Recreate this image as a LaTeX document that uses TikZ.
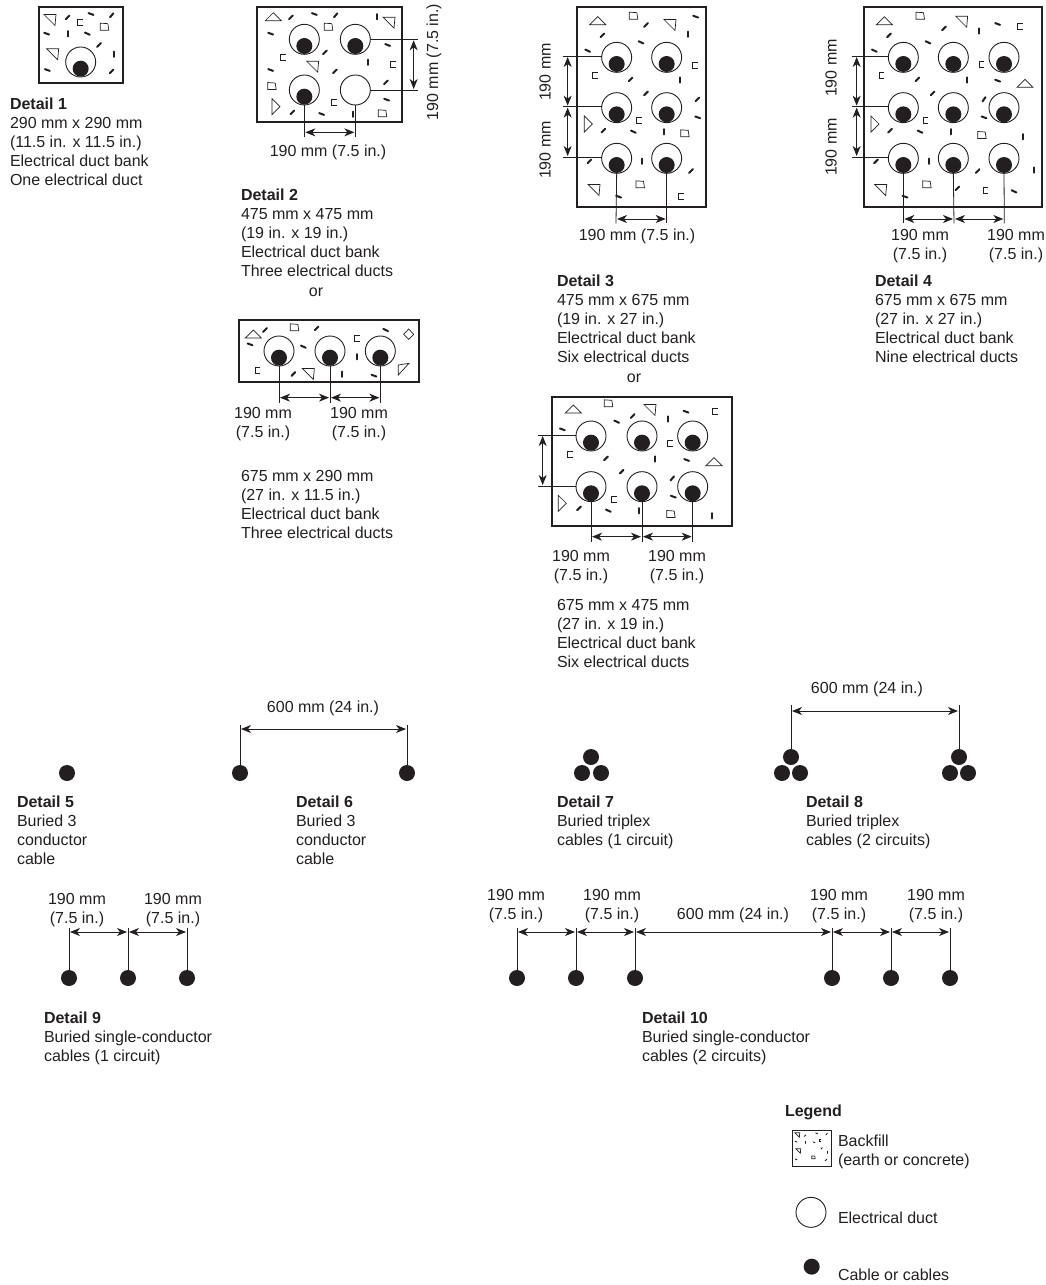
\documentclass[tikz,border=0pt]{standalone}
\usepackage{fontspec}
\setmainfont{Liberation Sans}
\usetikzlibrary{arrows.meta}
\definecolor{ink}{HTML}{231F20}
\def\mks{1}\def\dw{2pt}
\tikzset{
  x=1pt,y=-1pt,
  every node/.style={text=ink,font=\fontsize{16}{19}\selectfont,inner sep=0pt,outer sep=0pt},
  zoomed/.style={x=.33333pt,y=-.33333pt},
  bankbox/.style={draw=ink,line width=2pt},
  duct/.style={circle,draw=ink,line width=.9pt,minimum size=30pt,fill=white},
  cable/.style={circle,fill=ink,minimum size=16pt},
  leader/.style={draw=ink,line width=.8pt},
  dimarrow/.style={draw=ink,line width=.8pt,{Stealth[length=10pt,width=8pt,inset=3pt]}-{Stealth[length=10pt,width=8pt,inset=3pt]},shorten <=1pt,shorten >=1pt},
  textblock/.style={anchor=north west,align=left,yshift=-1pt},
  lab/.style={anchor=center,align=center,yshift=-1pt},
  mk/.style={draw=ink,line width=.7pt}
}
% marks, in the current coordinates
\newcommand\dsh[3]{\begin{scope}[shift={(#1,#2)},rotate=#3,scale=\mks]\draw[draw=ink,line width=\dw,line cap=round] (-2.6pt,0pt)--(2.6pt,0pt);\end{scope}}
\newcommand\tria[3]{\begin{scope}[shift={(#1,#2)},rotate=#3,scale=\mks]\draw[mk] (-8pt,-4pt)--(8pt,-4pt)--(0pt,4pt)--cycle;\end{scope}}
\newcommand\trib[2]{\begin{scope}[shift={(#1,#2)},scale=\mks]\draw[mk] (-6pt,5.5pt)--(6pt,5.5pt)--(5pt,-5.5pt)--cycle;\end{scope}}
\newcommand\trap[2]{\begin{scope}[shift={(#1,#2)},scale=\mks]\draw[mk] (-4pt,3.5pt)--(3.5pt,3pt)--(4.5pt,-3.5pt)--(-4pt,-3.5pt)--cycle;\end{scope}}
\newcommand\brk[2]{\begin{scope}[shift={(#1,#2)},scale=\mks]\draw[mk,line width=.9pt] (2.7pt,3pt)--(-2.5pt,3pt)--(-2.5pt,-3pt)--(2.7pt,-3pt);\end{scope}}
\newcommand\dc[3]{\node[duct] (d#1) at (#2,#3) {};\node[cable] (c#1) at (#2,#3+20) {};}
\newcommand\hdim[3]{\draw[dimarrow] (#1 |- 0,#3) -- (#2 |- 0,#3);}
\newcommand\vdim[3]{\draw[dimarrow] (#1 -| #3,0) -- (#2 -| #3,0);}
\newcommand\lft[2]{\draw[leader] (#2 -| #1.west) -- (#2);}
\begin{document}
\begin{tikzpicture}
\useasboundingbox (0,0) rectangle (1045,1285);

% ---------- Detail 1
\begin{scope}[zoomed]
\draw[bankbox] (116,22) rectangle (368,248);
\trib{150}{60}\trib{158}{163}\brk{240}{66}\trap{313}{80}
\dsh{203}{52}{45}\dsh{273}{42}{-20}\dsh{335}{46}{50}\dsh{140}{101}{-20}\dsh{205}{101}{90}\dsh{262}{101}{-25}\dsh{297}{135}{45}\dsh{343}{163}{90}\dsh{142}{210}{-20}\dsh{335}{214}{45}
\dc{1a}{242}{186}
\end{scope}
\node[textblock] (t1) at (10,97) {\textbf{Detail 1}\\290 mm x 290 mm\\(11.5 in. x 11.5 in.)\\Electrical duct bank\\One electrical duct};

% ---------- Detail 2
\begin{scope}[zoomed]
\draw[bankbox] (772,22) rectangle (1207,367);
\tria{820}{50}{0}\trib{1167}{68}\trap{985}{80}\brk{850}{173}\trib{938}{200}\brk{1180}{193}\trap{815}{258}\brk{1003}{308}\tria{828}{320}{-90}\trap{1147}{340}
\dsh{873}{52}{45}\dsh{943}{42}{-20}\dsh{1007}{46}{50}\dsh{1130}{50}{90}\dsh{812}{101}{-20}\dsh{1163}{135}{-20}\dsh{975}{157}{45}\dsh{1105}{187}{90}\dsh{812}{210}{-20}\dsh{1005}{214}{45}\dsh{1158}{247}{45}\dsh{1160}{299}{-20}\dsh{877}{337}{45}\dsh{965}{342}{-20}\dsh{1058}{343}{90}
\dc{2a}{913}{118}\dc{2b}{1066}{118}\dc{2c}{913}{270}
\node[duct] (d2d) at (1066,270) {};
\coordinate (e2b) at (1255,118);\coordinate (e2d) at (1255,270);
\coordinate (e2c) at (913,410);\coordinate (e2f) at (1066,410);
\draw[leader] (d2b.east)--(e2b);\draw[leader] (d2d.east)--(e2d);
\draw[leader] (c2c.south)--(e2c);\draw[leader] (d2d.south)--(e2f);
\hdim{e2c}{e2f}{397}
\vdim{e2b}{e2d}{1241}
\end{scope}
\node[lab] (l2a) at (328,151) {190 mm (7.5 in.)};
\node[lab,rotate=90] (l2b) at (434,61) {190 mm (7.5 in.)};
\node[textblock] (t2) at (241,188) {\textbf{Detail 2}\\475 mm x 475 mm\\(19 in. x 19 in.)\\Electrical duct bank\\Three electrical ducts};
\node[lab] (o2) at (316,291) {or};

% ---------- Detail 2 alternative
\begin{scope}[shift={(220,310)},zoomed]
\draw[bankbox] (58,30) rectangle (598,215);
\tria{100}{72}{0}\trap{223}{52}\brk{412}{85}\brk{113}{180}\trib{265}{192}
\draw[mk] (566,57)--(581,73)--(566,88)--(551,73)--cycle;
\draw[mk] (535,195)--(567,160)--(535,165)--cycle;
\dsh{135}{60}{45}\dsh{290}{55}{45}\dsh{90}{103}{-20}\dsh{250}{110}{-25}\dsh{497}{60}{-25}\dsh{410}{140}{90}\dsh{220}{192}{45}\dsh{367}{193}{90}\dsh{462}{197}{-20}
\dc{5a}{177}{123}\dc{5b}{330}{123}\dc{5c}{481}{123}
\coordinate (e5a) at (177,278);\coordinate (e5b) at (330,278);\coordinate (e5c) at (481,278);
\draw[leader] (c5a.south)--(e5a);\draw[leader] (c5b.south)--(e5b);\draw[leader] (c5c.south)--(e5c);
\hdim{e5a}{e5b}{263}\hdim{e5b}{e5c}{263}
\end{scope}
\node[lab] (l5a) at (263,423) {190 mm\\(7.5 in.)};
\node[lab] (l5b) at (359,423) {190 mm\\(7.5 in.)};
\node[textblock] (t5) at (241,469) {675 mm x 290 mm\\(27 in. x 11.5 in.)\\Electrical duct bank\\Three electrical ducts};

% ---------- Detail 3
\begin{scope}[shift={(520,0)},zoomed]
\draw[bankbox] (172,22) rectangle (557,622);
\tria{233}{62}{0}\trap{340}{47}\trib{450}{75}\brk{525}{195}\brk{225}{227}\brk{357}{362}\tria{205}{372}{-90}\trap{494}{400}\trap{360}{553}\trib{222}{570}\brk{484}{590}
\dsh{378}{75}{45}\dsh{527}{50}{-20}\dsh{503}{103}{90}\dsh{247}{106}{45}\dsh{363}{127}{-25}\dsh{203}{152}{-25}\dsh{332}{238}{45}\dsh{480}{240}{90}\dsh{378}{280}{45}\dsh{532}{298}{45}\dsh{533}{352}{-20}\dsh{250}{392}{45}\dsh{340}{395}{-25}\dsh{432}{395}{90}\dsh{208}{484}{45}\dsh{367}{484}{90}\dsh{513}{513}{45}\dsh{296}{590}{-20}
\dc{3a}{290}{172}\dc{3b}{440}{172}\dc{3c}{290}{323}\dc{3d}{440}{323}\dc{3e}{290}{475}\dc{3f}{440}{475}
\coordinate (e3a) at (130,168);\coordinate (e3c) at (130,320);\coordinate (e3e) at (130,471);
\lft{d3a}{e3a}\lft{d3c}{e3c}\lft{d3e}{e3e}
\coordinate (e3g) at (288,670);\coordinate (e3h) at (440,670);
\draw[leader] (c3e.south)--(e3g);\draw[leader] (c3f.south)--(e3h);
\vdim{e3a}{e3c}{143}\vdim{e3c}{e3e}{143}
\hdim{e3g}{e3h}{657}
\end{scope}
\node[lab] (l3a) at (637,235) {190 mm (7.5 in.)};
\node[lab,rotate=90] (l3b) at (545,71) {190 mm};
\node[lab,rotate=90] (l3c) at (545,149) {190 mm};
\node[textblock] (t3) at (557,274) {\textbf{Detail 3}\\475 mm x 675 mm\\(19 in. x 27 in.)\\Electrical duct bank\\Six electrical ducts};
\node[lab] (o3) at (634,377) {or};

% ---------- Detail 3 alternative
\begin{scope}[shift={(530,390)},zoomed]
\draw[bankbox] (67,20) rectangle (606,407);
\tria{130}{57}{0}\trap{235}{40}\trib{360}{60}\brk{555}{65}\brk{420}{160}\brk{120}{193}\tria{552}{215}{0}\brk{253}{328}\tria{97}{340}{-90}\trap{422}{372}
\dsh{308}{78}{45}\dsh{415}{87}{90}\dsh{468}{65}{-20}\dsh{97}{118}{-20}\dsh{260}{95}{-25}\dsh{228}{205}{45}\dsh{375}{207}{90}\dsh{470}{210}{-20}\dsh{275}{245}{45}\dsh{427}{265}{50}\dsh{430}{320}{-20}\dsh{147}{355}{45}\dsh{235}{362}{-25}\dsh{328}{362}{90}\dsh{546}{377}{90}
\dc{6a}{183}{138}\dc{6b}{336}{138}\dc{6c}{488}{138}\dc{6d}{183}{290}\dc{6e}{336}{290}\dc{6f}{488}{290}
\coordinate (e6a) at (25,135);\coordinate (e6d) at (25,288);
\lft{d6a}{e6a}\lft{d6d}{e6d}
\vdim{e6a}{e6d}{38}
\coordinate (e6g) at (183,455);\coordinate (e6h) at (336,455);\coordinate (e6i) at (488,455);
\draw[leader] (c6d.south)--(e6g);\draw[leader] (c6e.south)--(e6h);\draw[leader] (c6f.south)--(e6i);
\hdim{e6g}{e6h}{440}\hdim{e6h}{e6i}{440}
\end{scope}
\node[lab] (l6a) at (581,566) {190 mm\\(7.5 in.)};
\node[lab] (l6b) at (677,566) {190 mm\\(7.5 in.)};
\node[textblock] (t6) at (557,598) {675 mm x 475 mm\\(27 in. x 19 in.)\\Electrical duct bank\\Six electrical ducts};

% ---------- Detail 4
\begin{scope}[shift={(520,0)},zoomed]
\draw[bankbox] (1032,22) rectangle (1566,622);
\tria{1093}{62}{0}\trap{1200}{47}\trib{1325}{65}\brk{1500}{80}\brk{1385}{192}\brk{1085}{227}\tria{1515}{250}{0}\brk{1217}{362}\tria{1065}{372}{-90}\trap{1385}{405}\trap{1220}{553}\trib{1082}{570}\brk{1397}{570}
\dsh{1272}{85}{45}\dsh{1378}{93}{90}\dsh{1433}{72}{-20}\dsh{1107}{106}{45}\dsh{1224}{127}{-25}\dsh{1063}{152}{-25}\dsh{1192}{238}{45}\dsh{1340}{240}{90}\dsh{1433}{242}{-20}\dsh{1238}{280}{45}\dsh{1392}{298}{55}\dsh{1392}{352}{-20}\dsh{1110}{392}{45}\dsh{1200}{395}{-25}\dsh{1292}{395}{90}\dsh{1508}{410}{90}\dsh{1068}{484}{45}\dsh{1227}{484}{90}\dsh{1373}{513}{45}\dsh{1542}{510}{90}\dsh{1155}{590}{-20}\dsh{1312}{565}{45}\dsh{1482}{574}{-25}
\dc{4a}{1150}{172}\dc{4b}{1300}{172}\dc{4c}{1452}{172}\dc{4d}{1150}{323}\dc{4e}{1300}{323}\dc{4f}{1452}{323}\dc{4g}{1150}{475}\dc{4h}{1300}{475}\dc{4i}{1452}{475}
\coordinate (e4a) at (995,168);\coordinate (e4d) at (995,320);\coordinate (e4g) at (995,471);
\lft{d4a}{e4a}\lft{d4d}{e4d}\lft{d4g}{e4g}
\vdim{e4a}{e4d}{1010}\vdim{e4d}{e4g}{1010}
\coordinate (e4j) at (1150,670);\coordinate (e4k) at (1302,670);\coordinate (e4l) at (1453,670);
\draw[leader] (c4g.south)--(e4j);\draw[leader] (c4h.south)--(e4k);\draw[leader] (c4i.south)--(e4l);
\hdim{e4j}{e4k}{657}\hdim{e4k}{e4l}{657}
\end{scope}
\node[lab] (l4a) at (920,245) {190 mm\\(7.5 in.)};
\node[lab] (l4b) at (1016,245) {190 mm\\(7.5 in.)};
\node[lab,rotate=90] (l4c) at (831,67) {190 mm};
\node[lab,rotate=90] (l4d) at (831,146) {190 mm};
\node[textblock] (t4) at (875,274) {\textbf{Detail 4}\\675 mm x 675 mm\\(27 in. x 27 in.)\\Electrical duct bank\\Nine electrical ducts};

% ---------- Detail 5
\node[cable] (c7) at (67,773) {};
\node[textblock] (t7) at (17,795) {\textbf{Detail 5}\\Buried 3\\conductor\\cable};

% ---------- Detail 6
\node[cable] (c8a) at (240,773) {};\node[cable] (c8b) at (407,773) {};
\coordinate (e8a) at (240,725);\coordinate (e8b) at (407,725);
\draw[leader] (c8a)--(e8a);\draw[leader] (c8b)--(e8b);
\hdim{e8a}{e8b}{729}
\node[lab] (l8) at (323,707) {600 mm (24 in.)};
\node[textblock] (t8) at (296,795) {\textbf{Detail 6}\\Buried 3\\conductor\\cable};

% ---------- Detail 7
\node[cable] (c9a) at (591,757) {};\node[cable] (c9b) at (582,773) {};\node[cable] (c9c) at (601,773) {};
\node[textblock] (t9) at (557,795) {\textbf{Detail 7}\\Buried triplex\\cables (1 circuit)};

% ---------- Detail 8
\node[cable] (c10a) at (791,757) {};\node[cable] (c10b) at (782,773) {};\node[cable] (c10c) at (800,773) {};
\node[cable] (c10d) at (959,757) {};\node[cable] (c10e) at (950,773) {};\node[cable] (c10f) at (968,773) {};
\coordinate (e10a) at (791,705);\coordinate (e10d) at (959,705);
\draw[leader] (c10a)--(e10a);\draw[leader] (c10d)--(e10d);
\hdim{e10a}{e10d}{711}
\node[lab] (l10) at (867,688) {600 mm (24 in.)};
\node[textblock] (t10) at (806,795) {\textbf{Detail 8}\\Buried triplex\\cables (2 circuits)};

% ---------- Detail 9
\foreach \n/\x in {a/69,b/128,c/187}{
  \node[cable] (c11\n) at (\x,978) {};
  \coordinate (e11\n) at (\x,928);
  \draw[leader] (c11\n)--(e11\n);
}
\hdim{e11a}{e11b}{932}\hdim{e11b}{e11c}{932}
\node[lab] (l11a) at (77,909.5) {190 mm\\(7.5 in.)};
\node[lab] (l11b) at (173,909.5) {190 mm\\(7.5 in.)};
\node[textblock] (t11) at (44,1011) {\textbf{Detail 9}\\Buried single-conductor\\cables (1 circuit)};

% ---------- Detail 10
\foreach \n/\x in {a/517,b/576,c/635,d/832,e/891,f/950}{
  \node[cable] (c12\n) at (\x,978) {};
  \coordinate (e12\n) at (\x,928);
  \draw[leader] (c12\n)--(e12\n);
}
\hdim{e12a}{e12b}{932}\hdim{e12b}{e12c}{932}\hdim{e12c}{e12d}{932}\hdim{e12d}{e12e}{932}\hdim{e12e}{e12f}{932}
\node[lab] (l12a) at (516,905.5) {190 mm\\(7.5 in.)};
\node[lab] (l12b) at (612,905.5) {190 mm\\(7.5 in.)};
\node[lab] (l12c) at (733,914) {600 mm (24 in.)};
\node[lab] (l12d) at (839,905.5) {190 mm\\(7.5 in.)};
\node[lab] (l12e) at (936,905.5) {190 mm\\(7.5 in.)};
\node[textblock] (t12) at (642,1011) {\textbf{Detail 10}\\Buried single-conductor\\cables (2 circuits)};

% ---------- Legend
\node[anchor=west] (lg) at (785,1112) {\textbf{Legend}};
\begin{scope}[shift={(770,1090)},zoomed]
\draw[draw=ink,line width=1pt] (66,122) rectangle (183,228);
\def\mks{.4}\def\dw{.9pt}
\trib{82}{135}\trib{85}{183}\brk{150}{152}\trap{130}{202}
\dsh{105}{137}{45}\dsh{140}{130}{-20}\dsh{170}{132}{45}\dsh{78}{155}{-20}\dsh{105}{157}{90}\dsh{132}{157}{-25}\dsh{155}{175}{45}\dsh{172}{187}{90}\dsh{78}{208}{-20}\dsh{168}{210}{45}
\node[duct] (ldu) at (123,367) {};
\node[cable] (lca) at (125,530) {};
\end{scope}
\node[textblock] (lt1) at (838,1134) {Backfill\\(earth or concrete)};
\node[anchor=west] (lt2) at (838,1218) {Electrical duct};
\node[anchor=west] (lt3) at (838,1275) {Cable or cables};
\end{tikzpicture}
\end{document}
